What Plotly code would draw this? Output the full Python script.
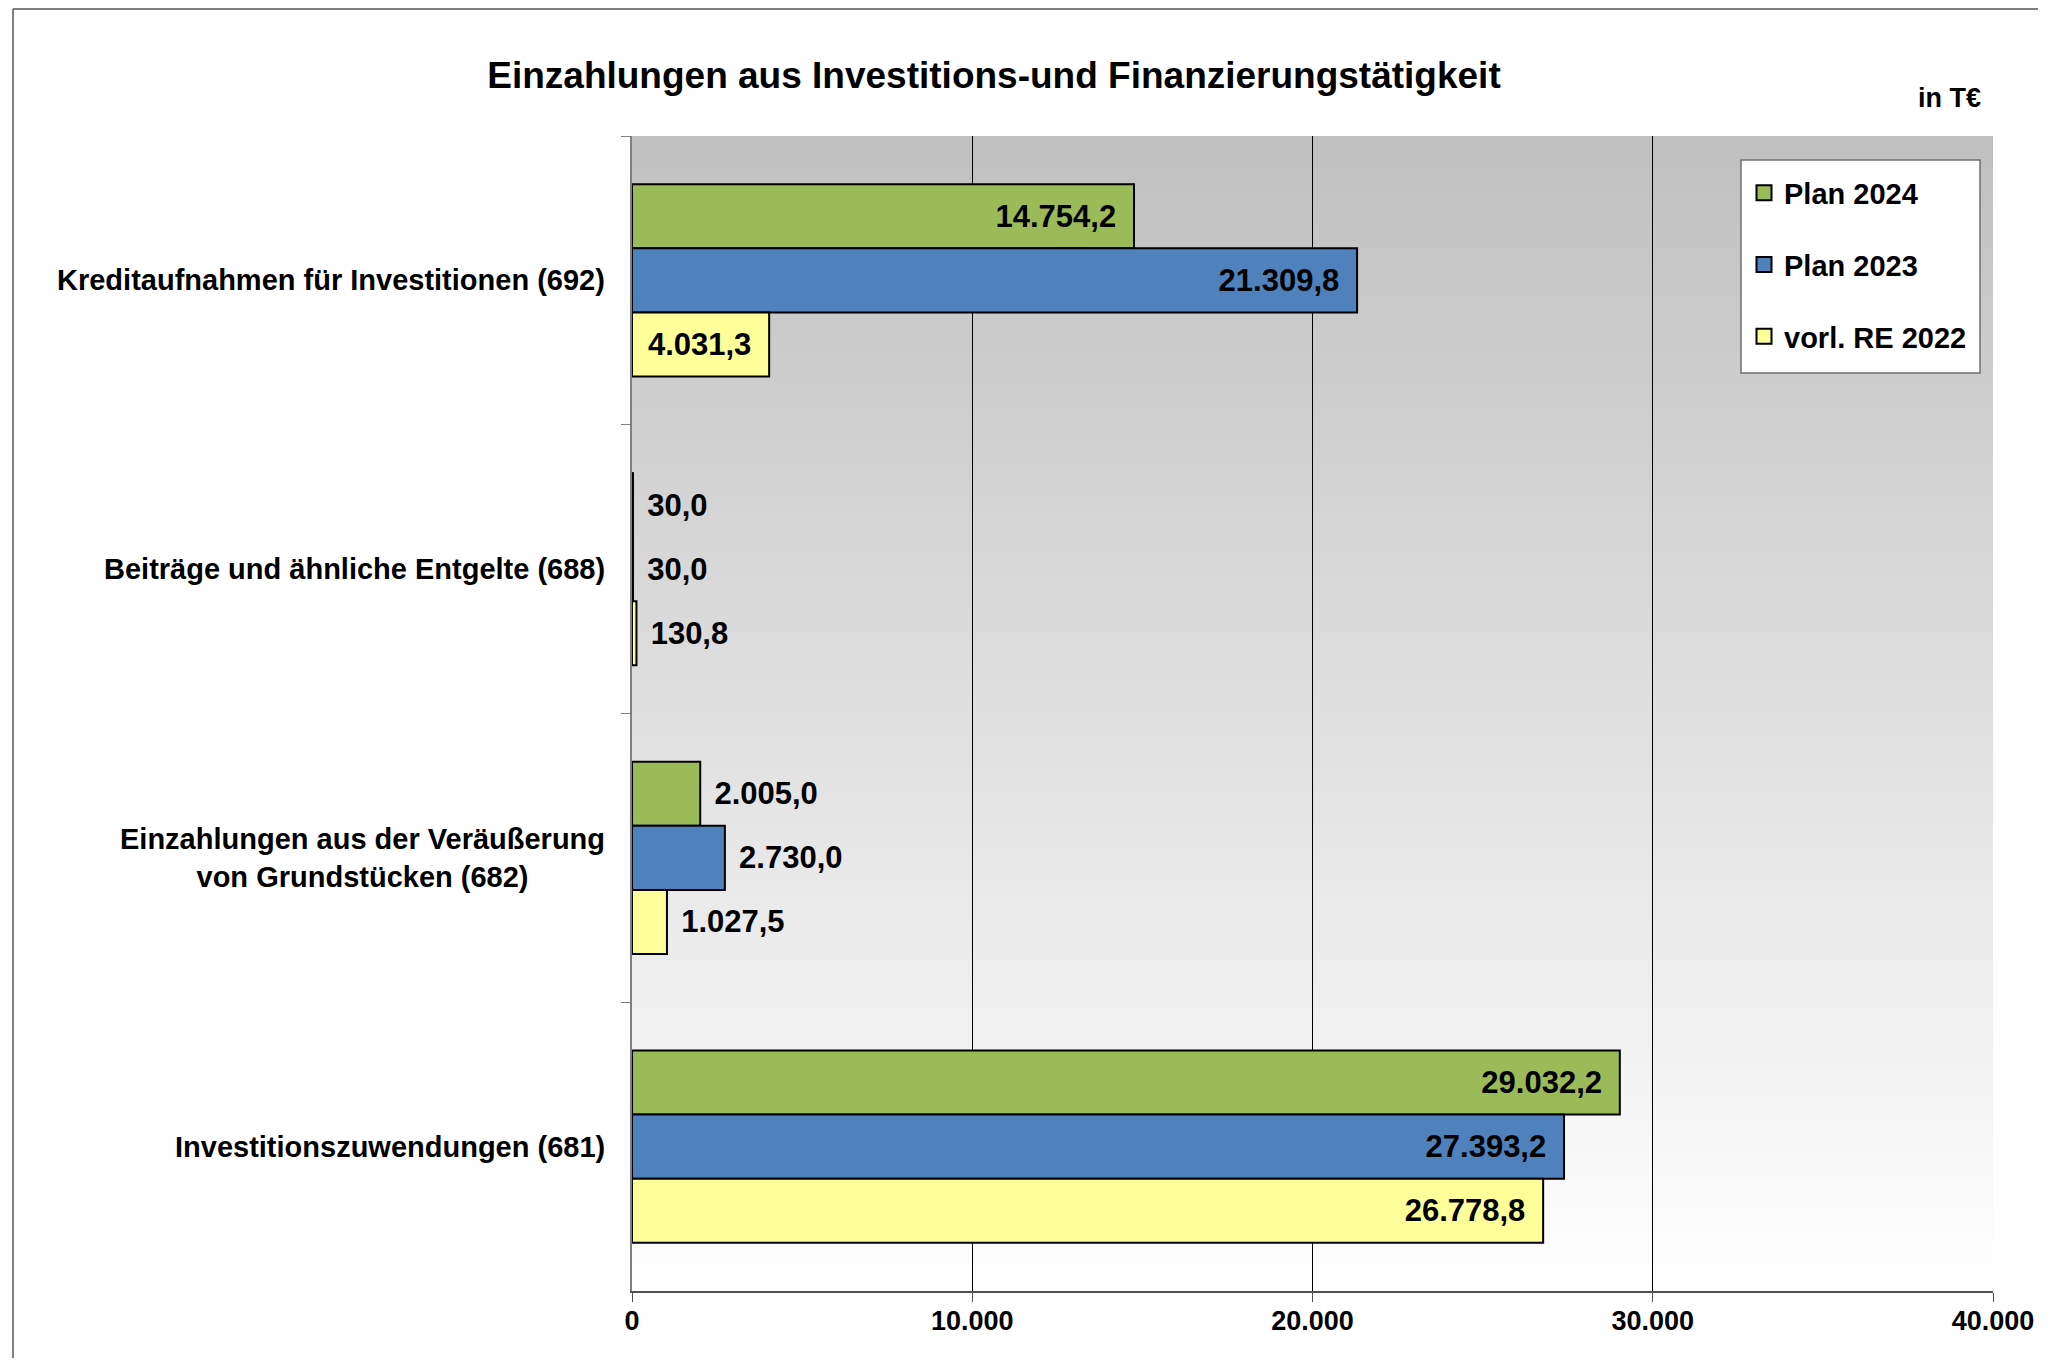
import base64
import struct
import zlib
import plotly.graph_objects as go

# ---------------- data ----------------
categories = [
    "Kreditaufnahmen für Investitionen (692)",
    "Beiträge und ähnliche Entgelte (688)",
    "Einzahlungen aus der Veräußerung<br>von Grundstücken (682)",
    "Investitionszuwendungen (681)",
]
series_names = ["Plan 2024", "Plan 2023", "vorl. RE 2022"]
plan_2024 = [14754.2, 30.0, 2005.0, 29032.2]
plan_2023 = [21309.8, 30.0, 2730.0, 27393.2]
vorl_re_2022 = [4031.3, 130.8, 1027.5, 26778.8]
x_tick_values = [0, 10000, 20000, 30000, 40000]
x_tick_labels = ["0", "10.000", "20.000", "30.000", "40.000"]
title_text = "Einzahlungen aus Investitions-und Finanzierungstätigkeit"
unit_text = "in T€"

# ---------------- styling ----------------
FONT = "Liberation Sans, Arial, sans-serif"
colors = ["#9BBB59", "#4F81BD", "#FFFF99"]
OFF = 8  # page body margin
W, H = 2030, 1350
# plot area in page coords: x 632..1993, y 136..1291
L, T = 632 - OFF, 136 - OFF
R = W - (1993 - OFF)
B = H - (1291 - OFF)
PW, PH = W - L - R, H - T - B


def px_x(p):
    return (p - OFF - L) / PW


def px_y(p):
    return (H - B - (p - OFF)) / PH


def gradient_png(top=192, bottom=255, rows=256):
    raw = b""
    for i in range(rows):
        v = int(round(top + (bottom - top) * i / (rows - 1)))
        raw += b"\x00" + bytes([v, v])

    def chunk(tag, data):
        c = struct.pack(">I", len(data)) + tag + data
        return c + struct.pack(">I", zlib.crc32(tag + data) & 0xFFFFFFFF)

    png = b"\x89PNG\r\n\x1a\n"
    png += chunk(b"IHDR", struct.pack(">IIBBBBB", 2, rows, 8, 0, 0, 0, 0))
    png += chunk(b"IDAT", zlib.compress(raw))
    png += chunk(b"IEND", b"")
    return "data:image/png;base64," + base64.b64encode(png).decode()


fig = go.Figure()
PAD_IN = "\u00a0\u2009"
PAD_OUT = "\u00a0\u200a"
LBL = dict(family=FONT, size=31, color="#000000", weight="bold")
for name, vals, col in zip(series_names, [plan_2024, plan_2023, vorl_re_2022], colors):
    pos = ["inside" if v >= 3500 else "outside" for v in vals]
    tmpl = [("%{x:,.1f}" + PAD_IN) if p == "inside" else (PAD_OUT + "%{x:,.1f}") for p in pos]
    fig.add_trace(go.Bar(
        y=categories, x=vals, name=name, orientation="h",
        marker=dict(color=col, line=dict(color="#000000", width=2)),
        textposition=pos, texttemplate=tmpl, insidetextanchor="end",
        constraintext="none", cliponaxis=False,
        textfont=LBL, insidetextfont=LBL, outsidetextfont=LBL,
        legendgroup=name, showlegend=False, hoverinfo="x+name",
    ))

# legend entries (square swatches like the original)
for name, col in zip(series_names, colors):
    fig.add_trace(go.Scatter(
        x=[None], y=[None], mode="markers", name=name, legendgroup=name,
        marker=dict(symbol="square", size=15, color=col, line=dict(color="#000000", width=2)),
        hoverinfo="skip",
    ))

annotations = []
for c in categories:
    annotations.append(dict(
        text=c, xref="paper", yref="y", x=px_x(607), y=c,
        xanchor="right", yanchor="middle", align="center", showarrow=False,
        font=dict(family=FONT, size=29, color="#000000", weight="bold"),
    ))
annotations.append(dict(
    text=unit_text, xref="paper", yref="paper", x=px_x(1983), y=px_y(98),
    xanchor="right", yanchor="middle", showarrow=False,
    font=dict(family=FONT, size=27, color="#000000", weight="bold"),
))

shapes = [
    dict(type="line", xref="paper", yref="paper", x0=px_x(13), x1=px_x(2051), y0=px_y(9), y1=px_y(9),
         line=dict(color="#7f7f7f", width=2)),
    dict(type="line", xref="paper", yref="paper", x0=px_x(13), x1=px_x(13), y0=px_y(9), y1=px_y(1368),
         line=dict(color="#7f7f7f", width=2)),
    # legend frame
    dict(type="rect", xref="paper", yref="paper", x0=px_x(1741), x1=px_x(1980),
         y0=px_y(160), y1=px_y(373), fillcolor="#ffffff",
         line=dict(color="#707070", width=1.5), layer="above"),
]

fig.update_layout(
    width=W, height=H, autosize=False,
    margin=dict(l=L, r=R, t=T, b=B, pad=0, autoexpand=False),
    paper_bgcolor="#ffffff", plot_bgcolor="rgba(0,0,0,0)",
    separators=",.",
    barmode="group", bargap=0.335, bargroupgap=0,
    font=dict(family=FONT, color="#000000"),
    title=dict(text=title_text, x=(994 - OFF) / W, y=1 - (75 - OFF) / H,
               xref="container", yref="container", xanchor="center", yanchor="middle",
               font=dict(family=FONT, size=37, color="#000000", weight="bold")),
    xaxis=dict(range=[0, 40000], tickvals=x_tick_values, ticktext=x_tick_labels,
               showgrid=True, gridcolor="#000000", gridwidth=1, zeroline=False,
               showline=True, linecolor="#505050", linewidth=2, automargin=False,
               ticks="outside", ticklen=9, tickcolor="#505050", tickwidth=1,
               ticklabelstandoff=-4,
               tickfont=dict(family=FONT, size=27, color="#000000", weight="bold")),
    yaxis=dict(type="category", autorange="reversed", showgrid=False, zeroline=False,
               showline=True, linecolor="#808080", linewidth=1.5, automargin=False,
               ticks="outside", tickson="boundaries", ticklen=9, tickcolor="#808080",
               showticklabels=False),
    legend=dict(x=px_x(1744), y=px_y(161), xanchor="left", yanchor="top",
                bgcolor="rgba(0,0,0,0)", borderwidth=0,
                tracegroupgap=31, itemwidth=30, traceorder="grouped",
                title=dict(text=" ", font=dict(size=5)),
                font=dict(family=FONT, size=29, color="#000000", weight="bold")),
    images=[dict(source=gradient_png(), xref="x domain", yref="y domain", x=0, y=1,
                 sizex=1, sizey=1, xanchor="left", yanchor="top", sizing="stretch",
                 layer="below")],
    annotations=annotations,
    shapes=shapes,
)

fig.write_html("out.html")
